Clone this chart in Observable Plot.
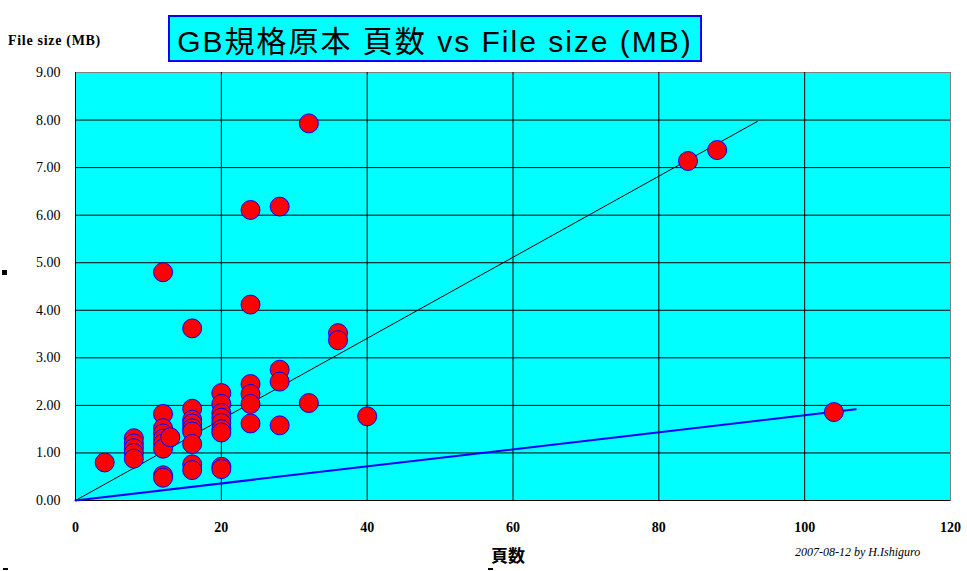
<!DOCTYPE html>
<html>
<head>
<meta charset="utf-8">
<script src="https://cdn.jsdelivr.net/npm/d3@7"></script>
<script src="https://cdn.jsdelivr.net/npm/@observablehq/plot@0.6"></script>
<style>
  html, body { margin: 0; padding: 0; background: #fff; }
  #wrap { position: relative; width: 967px; height: 571px; overflow: hidden; }
  #wrap svg { position: absolute; left: 0; top: 0; }
  .ov { position: absolute; white-space: nowrap; }
  #title { left: 168px; top: 15px; width: 530px; height: 43px; background: #00FFFF; border: 2px solid #0000FF;
           font-family: "Liberation Sans", Arial, "Noto Sans CJK JP", sans-serif; font-size: 30px; color: #000;
           display: flex; align-items: center; justify-content: center; letter-spacing: 2px; }
  #ylab { left: 8px; top: 33px; font-family: "Liberation Serif", "Times New Roman", serif; font-weight: bold; font-size: 14px; letter-spacing: 0.7px; }
  #xlab { left: 491px; top: 542px; font-family: "Noto Sans CJK JP", sans-serif; font-weight: bold; font-size: 17px; }
  #cap { left: 795px; top: 545px; font-family: "Liberation Serif", "Times New Roman", serif; font-style: italic; font-size: 12px; }
  .mk { position: absolute; background: #000; }
</style>
</head>
<body>
<div id="wrap"></div>
<script>
// Pages (頁数) and file size (MB)
const pages = [4, 8, 8, 8, 8, 8, 12, 12, 12, 12, 12, 12, 12, 12, 12, 13,
  16, 16, 16, 16, 16, 16, 16, 16, 16,
  20, 20, 20, 20, 20, 20, 20, 20, 20,
  24, 24, 24, 24, 24, 24, 28, 28, 28, 28, 32, 32, 36, 36, 40, 84, 88, 104];
const sizes = [0.80, 1.31, 1.20, 1.10, 1.00, 0.88, 4.80, 1.82, 1.52, 1.41, 1.30, 1.20, 1.09, 0.53, 0.48, 1.33,
  3.62, 1.93, 1.70, 1.62, 1.52, 1.45, 1.19, 0.76, 0.64,
  2.26, 2.03, 1.84, 1.74, 1.63, 1.50, 1.43, 0.71, 0.66,
  6.11, 4.12, 2.45, 2.24, 2.03, 1.62, 6.18, 2.75, 2.50, 1.58, 7.93, 2.05, 3.52, 3.37, 1.77, 7.14, 7.37, 1.86];
// Reference lines
const blackLineX = [0, 93.5];
const blackLineY = [0, 7.97];
const blueLineX = [0, 107];
const blueLineY = [0, 1.92];
const xTicks = [0, 20, 40, 60, 80, 100, 120];
const yTicks = [0, 1, 2, 3, 4, 5, 6, 7, 8, 9];

const points = pages.map((p, i) => ({p, s: sizes[i]}));
const blackLine = blackLineX.map((x, i) => ({x, y: blackLineY[i]}));
const blueLine = blueLineX.map((x, i) => ({x, y: blueLineY[i]}));

const chart = Plot.plot({
  width: 967,
  height: 571,
  marginLeft: 75,
  marginRight: 17,
  marginTop: 72,
  marginBottom: 71,
  style: {background: "transparent", overflow: "visible"},
  x: {domain: [0, 120], ticks: xTicks},
  y: {domain: [0, 9], ticks: yTicks},
  marks: [
    Plot.frame({fill: "#00FFFF", stroke: "#808080"}),
    Plot.gridX(xTicks.filter(d => d > 0 && d < 120), {stroke: "#000", strokeOpacity: 1, strokeWidth: 1}),
    Plot.gridY(yTicks.filter(d => d > 0 && d < 9), {stroke: "#000", strokeOpacity: 1, strokeWidth: 1}),
    Plot.ruleX([0], {stroke: "#000"}),
    Plot.ruleY([0], {stroke: "#000"}),
    Plot.line(blackLine, {x: "x", y: "y", stroke: "#000", strokeWidth: 1}),
    Plot.line(blueLine, {x: "x", y: "y", stroke: "#0000FF", strokeWidth: 2}),
    Plot.dot(points, {x: "p", y: "s", r: 9.5, fill: "#FF0000", stroke: "#0000FF", strokeWidth: 1}),
    Plot.axisX(xTicks, {tickSize: 0, tickPadding: 22, label: null, fontSize: 14, fontWeight: "bold",
      fontFamily: "Liberation Serif, Times New Roman, serif", fill: "#000"}),
    Plot.axisY(yTicks, {tickSize: 0, tickPadding: 15, label: null, tickFormat: d3.format(".2f"), fontSize: 14,
      fontFamily: "Liberation Serif, Times New Roman, serif", fill: "#000"})
  ]
});

const wrap = document.getElementById("wrap");
wrap.appendChild(chart);
wrap.insertAdjacentHTML("beforeend", `
  <div class="ov" id="title">GB規格原本 頁数 vs File size (MB)</div>
  <div class="ov" id="ylab">File size (MB)</div>
  <div class="ov" id="xlab">頁数</div>
  <div class="ov" id="cap">2007-08-12 by H.Ishiguro</div>
  <div class="mk" style="left:2px;top:270px;width:5px;height:5px"></div>
  <div class="mk" style="left:3px;top:568px;width:5px;height:2px"></div>
  <div class="mk" style="left:488px;top:568px;width:5px;height:2px"></div>
`);
</script>
</body>
</html>
